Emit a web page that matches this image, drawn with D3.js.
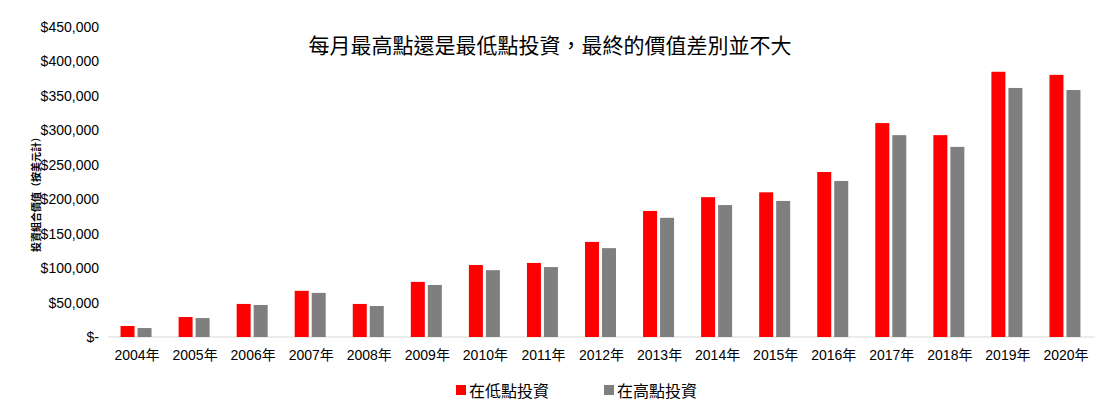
<!DOCTYPE html>
<html><head><meta charset="utf-8">
<script src="https://cdn.jsdelivr.net/npm/d3@7"></script>
<style>body{margin:0;background:#fff}</style></head>
<body><svg id="c" width="1097" height="406"></svg>
<script>
const categories=["2004年","2005年","2006年","2007年","2008年","2009年","2010年","2011年","2012年","2013年","2014年","2015年","2016年","2017年","2018年","2019年","2020年"];
const lowValues=[16000,29000,48000,67000,48000,80000,104500,107500,138000,183000,203000,210000,239500,310500,293000,385000,380500];
const highValues=[13000,27500,46500,64000,45000,75500,97000,101500,129000,173000,191500,197500,226500,293000,276000,361500,358500];
const seriesNames=["在低點投資","在高點投資"];
const colors=["#ff0000","#7f7f7f"];
const yTicks=[0,50000,100000,150000,200000,250000,300000,350000,400000,450000];
const title="每月最高點還是最低點投資，最終的價值差別並不大";
const yTitle="投資組合價值（按美元計）";

const svg=d3.select("#c");
const font="Arial, 'Liberation Sans', 'Noto Sans CJK TC', sans-serif";
const m={l:108,r:2,t:27,b:69};
const W=1097,H=406;
const x=d3.scaleBand().domain(categories).range([m.l,W-m.r]).paddingInner(0);
const y=d3.scaleLinear().domain([0,450000]).range([H-m.b,m.t]);
const fmt=v=>v===0?"$-":"$"+d3.format(",")(v);
const ya=svg.append("g").attr("transform",`translate(${m.l-4},0)`)
 .call(d3.axisLeft(y).tickValues(yTicks).tickFormat(fmt).tickSize(0));
ya.select(".domain").remove();
ya.selectAll("text").attr("font-family",font).attr("font-size",14).attr("fill","#000").attr("dx",-2);
svg.append("line").attr("x1",m.l).attr("x2",W-m.r).attr("y1",y(0)).attr("y2",y(0)).attr("stroke","#d9d9d9");
const xa=svg.append("g").attr("transform",`translate(0,${y(0)})`).call(d3.axisBottom(x).tickSize(0));
xa.select(".domain").remove();
xa.selectAll("text").attr("font-family",font).attr("font-size",14).attr("fill","#000").attr("dy",20);
const bw=14,gap=3;
[lowValues,highValues].forEach((vals,si)=>{
 svg.append("g").selectAll("rect").data(vals).join("rect")
  .attr("x",(d,i)=>x(categories[i])+x.bandwidth()/2-bw-gap/2+si*(bw+gap)-1)
  .attr("width",bw).attr("y",d=>y(d)).attr("height",d=>y(0)-y(d)).attr("fill",colors[si]);
});
svg.append("text").attr("x",550).attr("y",53).attr("text-anchor","middle").attr("font-family",font).attr("font-size",21).text(title);
svg.append("text").attr("transform","translate(40,192) rotate(-90)").attr("text-anchor","middle").attr("font-family",font).attr("font-size",10).attr("font-weight","bold").text(yTitle);
const lg=svg.append("g");
[[456,seriesNames[0]],[604,seriesNames[1]]].forEach(([lx,t],i)=>{
 lg.append("rect").attr("x",lx).attr("y",385).attr("width",10).attr("height",10).attr("fill",colors[i]);
 lg.append("text").attr("x",lx+13).attr("y",397).attr("font-family",font).attr("font-size",16).text(t);
});
</script></body></html>
